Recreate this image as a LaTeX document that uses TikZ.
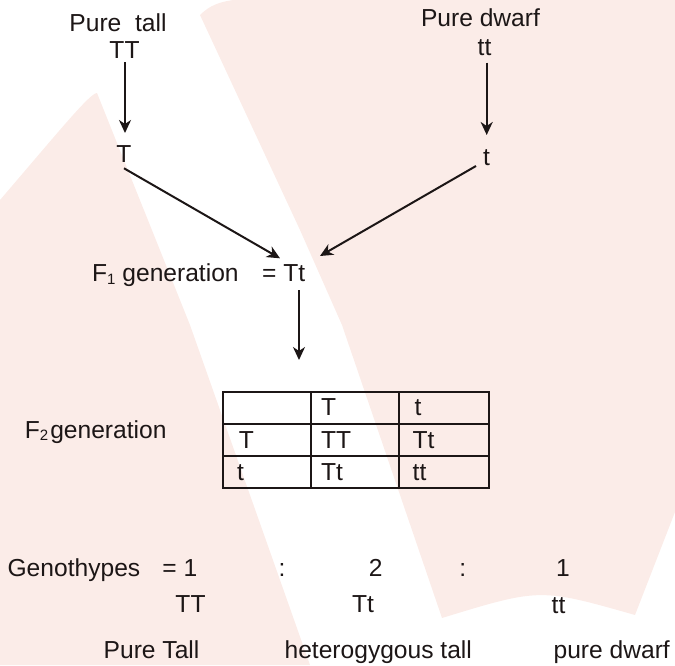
\documentclass[tikz,border=0pt]{standalone}
\usepackage{fontspec}
\setmainfont{Liberation Sans}
\usetikzlibrary{arrows.meta,calc}
\definecolor{wm}{RGB}{251,236,232}
\definecolor{ink}{RGB}{28,22,22}
\newcommand\sbs[1]{\raisebox{-2.5pt}{\fontsize{15}{15}\selectfont #1}}
\begin{document}
\begin{tikzpicture}[x=1pt,y=-1pt,
  lbl/.style={inner sep=0pt, font=\fontsize{24.6}{28}\selectfont, text=ink},
  arr/.style={draw=ink, line width=2pt, -{Stealth[length=13pt,width=12pt,inset=4pt]}},
  ln/.style={draw=ink, line width=1.7pt}]
\useasboundingbox (0,0) rectangle (675,665);
% watermark
\fill[wm] (0,200) .. controls (60,130) and (90,93) .. (97,93) -- (190,325) -- (310,665) -- (0,665) -- cycle;
\fill[wm] (200,15) .. controls (210,5) and (220,2) .. (233,0) -- (675,0) -- (675,512) -- (635,615)
  .. controls (540,588) .. (442,618) -- (342,325) -- (300,230) -- cycle;
% parents
\node[lbl, anchor=base] (pt) at (118,31) {Pure\ \ tall};
\node[lbl, anchor=base] (TT) at (124.5,58.7) {TT};
\node[lbl, anchor=base] (T) at (124,162.7) {T};
\node[lbl, anchor=base] (pd) at (480.5,26.7) {Pure dwarf};
\node[lbl, anchor=base] (tt) at (484.5,55) {tt};
\node[lbl, anchor=base] (t) at (486.5,165) {t};
% F1
\node[lbl, anchor=base west] (f1) at (92,281.7) {F\sbs{1} generation};
\node[lbl, anchor=base west] (tt1) at (262,281.7) {= Tt};
% arrows
\draw[arr] ($(TT.base)+(0.5,3.5)$) -- ($(T.base)+(1,-29.7)$);
\draw[arr] ($(tt.base)+(2.2,7.7)$) -- ($(t.base)+(0.2,-30)$);
\draw[arr] ($(T.base)+(0,5.6)$) -- ($(tt1.base west)+(18,-23.4)$);
\draw[arr] ($(t.base)+(-10.5,1)$) -- ($(tt1.base west)+(58,-25.7)$);
\coordinate (tabtop) at (299,392);
\draw[arr] ($(tt1.base west)+(37,8.3)$) -- ($(tabtop)+(0,-32)$);
% F2
\node[lbl, anchor=base west] (f2) at (24.7,438.3) {F\sbs{2}\hspace{2pt}generation};
% table
\draw[ln] (222.7,392) rectangle (488.7,488.3);
\draw[ln] (311,392) -- (311,488.3);
\draw[ln] (399.3,392) -- (399.3,488.3);
\draw[ln] (222.7,424.3) -- (488.7,424.3);
\draw[ln] (222.7,456) -- (488.7,456);
\node[lbl, anchor=base west] (c12) at (321,415.7) {T};
\node[lbl, anchor=base west] (c13) at (414.5,415.7) {t};
\node[lbl, anchor=base west] (c21) at (238.7,448.3) {T};
\node[lbl, anchor=base west] (c22) at (321,448.3) {TT};
\node[lbl, anchor=base west] (c23) at (412.5,448.3) {Tt};
\node[lbl, anchor=base west] (c31) at (236.9,480) {t};
\node[lbl, anchor=base west] (c32) at (321,480) {Tt};
\node[lbl, anchor=base west] (c33) at (412.5,480) {tt};
% ratio
\node[lbl, anchor=base west] (geno) at (7.4,576.7) {Genothypes};
\node[lbl, anchor=base west] (eq1) at (162.2,576.7) {= 1};
\node[lbl, anchor=base] (col1) at (282,576.7) {:};
\node[lbl, anchor=base] (two) at (375.6,576.7) {2};
\node[lbl, anchor=base] (col2) at (462.8,576.7) {:};
\node[lbl, anchor=base] (one) at (563,576.7) {1};
\node[lbl, anchor=base] (gTT) at (190.5,612.3) {TT};
\node[lbl, anchor=base] (gTt) at (363,612.3) {Tt};
\node[lbl, anchor=base] (gtt) at (558.5,613) {tt};
\node[lbl, anchor=base west] (ptl) at (103.5,658.3) {Pure Tall};
\node[lbl, anchor=base west] (het) at (284.4,658.3) {heterogygous tall};
\node[lbl, anchor=base west] (pdw) at (553.4,658.3) {pure dwarf};
\end{tikzpicture}
\end{document}
